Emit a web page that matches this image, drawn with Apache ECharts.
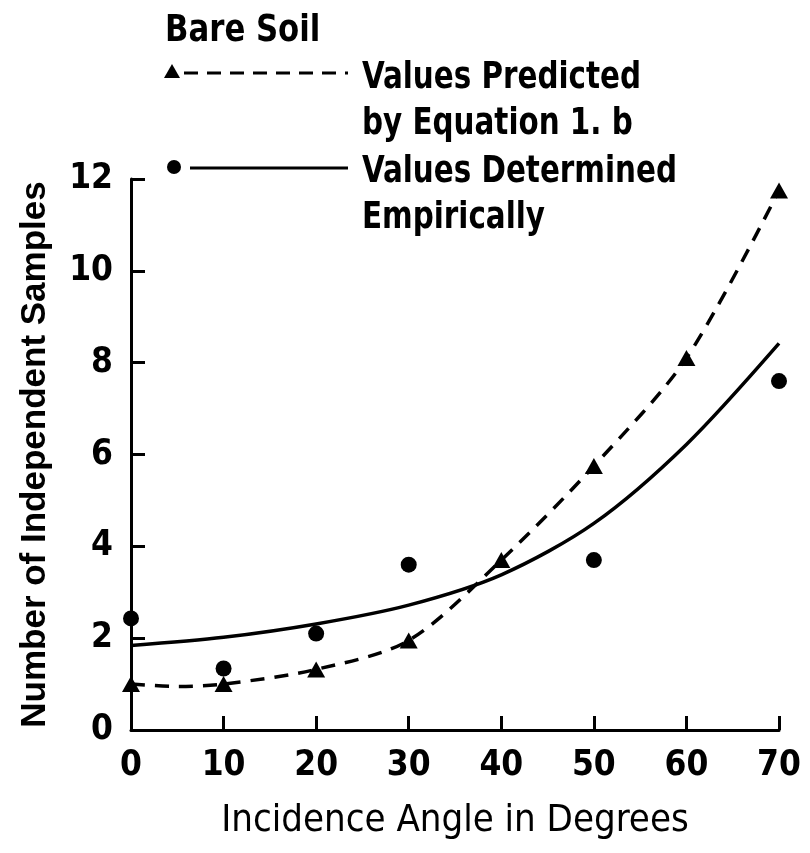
<!DOCTYPE html>
<html>
<head>
<meta charset="utf-8">
<script src="https://cdn.jsdelivr.net/npm/echarts@6/dist/echarts.min.js"></script>
<style>
  html, body { margin: 0; padding: 0; background: #fff; }
  #chart { width: 810px; height: 853px; }
</style>
</head>
<body>
<div id="chart"></div>
<script>
// data
const angles = [0, 10, 20, 30, 40, 50, 60, 70]
const predicted = [1.0, 1.0, 1.32, 1.95, 3.7, 5.75, 8.1, 11.75]
const predCurveX = [0, 5, 10, 20, 30, 40, 50, 60, 70]
const predCurveY = [1.0, 0.95, 1.0, 1.32, 1.95, 3.7, 5.75, 8.1, 11.75]
const empAngles = [0, 10, 20, 30, 50, 70]
const empirical = [2.43, 1.34, 2.1, 3.6, 3.7, 7.6]
const fitValues = [1.84, 2.02, 2.31, 2.72, 3.38, 4.5, 6.22, 8.42]
const yTicks = [0, 2, 4, 6, 8, 10, 12]

const zip = (xs, ys) => xs.map((x, i) => [x, ys[i]])
const ink = '#000'
const narrow = '"DejaVu Sans Condensed", sans-serif'

const chart = echarts.init(document.getElementById('chart'))

// legend text drawn squeezed, like the condensed face of the original
const legendText = (x, y, text) => ({
  type: 'text',
  x: x,
  y: y,
  scaleX: 0.86,
  style: { text: text, font: 'bold 38px ' + narrow, lineHeight: 46, fill: ink, verticalAlign: 'top' }
})

const option = {
  animation: false,
  backgroundColor: '#fff',
  grid: { left: 131, right: 31, top: 179, bottom: 123 },
  xAxis: {
    type: 'value',
    min: 0,
    max: 70,
    interval: 10,
    name: 'Incidence Angle in Degrees',
    nameLocation: 'middle',
    nameGap: 72,
    nameTextStyle: { fontFamily: narrow, fontSize: 38, color: ink },
    axisLine: { lineStyle: { color: ink, width: 3 } },
    axisTick: { inside: true, length: 14, lineStyle: { color: ink, width: 3 } },
    axisLabel: { fontFamily: narrow, fontSize: 35, color: ink, margin: 18, fontWeight: 'bold' },
    splitLine: { show: false }
  },
  yAxis: {
    type: 'value',
    min: 0,
    max: 12,
    interval: 2,
    name: 'Number of Independent Samples',
    nameLocation: 'middle',
    nameGap: 78,
    nameTextStyle: { fontFamily: 'Liberation Sans, sans-serif', fontSize: 35, fontWeight: 'bold', color: ink },
    axisLine: { show: true, lineStyle: { color: ink, width: 3 } },
    axisTick: { show: true, inside: true, length: 14, lineStyle: { color: ink, width: 3 } },
    axisLabel: {
      fontFamily: narrow, fontSize: 35, color: ink, margin: 18, fontWeight: 'bold',
      formatter: v => (yTicks.includes(v) ? String(v) : '')
    },
    splitLine: { show: false }
  },
  graphic: [
    { type: 'text', x: 165, y: 12, scaleX: 0.9, style: { text: 'Bare Soil', font: 'bold 38px ' + narrow, fill: ink, verticalAlign: 'top' } },
    { type: 'polygon', shape: { points: [[172, 64], [164, 78], [180, 78]] }, style: { fill: ink } },
    { type: 'line', shape: { x1: 184, y1: 73, x2: 348, y2: 73 }, style: { stroke: ink, lineWidth: 3, lineDash: [14, 9] } },
    legendText(362, 55, 'Values Predicted\nby Equation 1. b'),
    { type: 'circle', shape: { cx: 174, cy: 167, r: 7 }, style: { fill: ink } },
    { type: 'line', shape: { x1: 190, y1: 168, x2: 348, y2: 168 }, style: { stroke: ink, lineWidth: 3 } },
    legendText(362, 149, 'Values Determined\nEmpirically')
  ],
  series: [
    {
      name: 'Predicted curve',
      type: 'line',
      smooth: 0.3,
      showSymbol: false,
      data: zip(predCurveX, predCurveY),
      lineStyle: { color: ink, width: 3.5, type: [14, 10] },
      z: 2
    },
    {
      name: 'Values Predicted by Equation 1. b',
      type: 'scatter',
      symbol: 'triangle',
      symbolSize: [18, 16],
      data: zip(angles, predicted),
      itemStyle: { color: ink, opacity: 1 },
      z: 4
    },
    {
      name: 'Empirical fit',
      type: 'line',
      smooth: 0.3,
      showSymbol: false,
      data: zip(angles, fitValues),
      lineStyle: { color: ink, width: 3.5 },
      z: 2
    },
    {
      name: 'Values Determined Empirically',
      type: 'scatter',
      symbol: 'circle',
      symbolSize: 16,
      data: zip(empAngles, empirical),
      itemStyle: { color: ink, opacity: 1 },
      z: 4
    }
  ]
}

chart.setOption(option)
</script>
</body>
</html>
